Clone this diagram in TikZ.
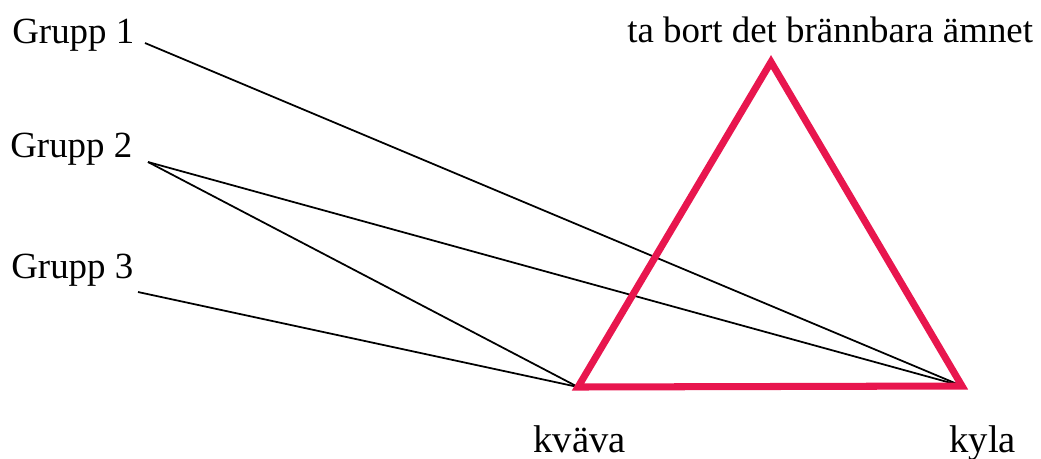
\documentclass[tikz,border=0pt]{standalone}
\usepackage{fontspec}
\setmainfont{Liberation Serif}
\definecolor{tripink}{RGB}{232,22,78}
\begin{document}
\begin{tikzpicture}[x=0.02cm,y=-0.02cm,
  lbl/.style={font=\fontsize{21}{24}\selectfont,inner sep=0pt,anchor=base west},
  blbl/.style={font=\fontsize{22}{26}\selectfont,inner sep=0pt,anchor=base west},
  conn/.style={line width=1pt,black},
  triline/.style={line width=4pt,draw=tripink,line join=miter}]
\useasboundingbox (0,0) rectangle (1041,458);
\node[lbl] (t1) at (12,43) {Grupp 1};
\node[lbl] (t2) at (10,157) {Grupp 2};
\node[lbl] (t3) at (11,278) {Grupp 3};
\node[lbl] (tt) at (627,42) {ta bort det brännbara ämnet};
\node[blbl] (tk) at (533,452) {kväva};
\node[blbl] (ty) at (949,452) {kyla};
\coordinate (g1) at (145,43);
\coordinate (g2) at (148,162);
\coordinate (g3) at (138,292);
\coordinate (top) at (771,62);
\coordinate (kv) at (578,387);
\coordinate (ky) at (962,386);
\draw[conn] (g1) -- (ky);
\draw[conn] (g2) -- (ky);
\draw[conn] (g2) -- (kv);
\draw[conn] (g3) -- (kv);
\draw[triline] (kv) -- (top) -- (ky) -- cycle;
\end{tikzpicture}
\end{document}
